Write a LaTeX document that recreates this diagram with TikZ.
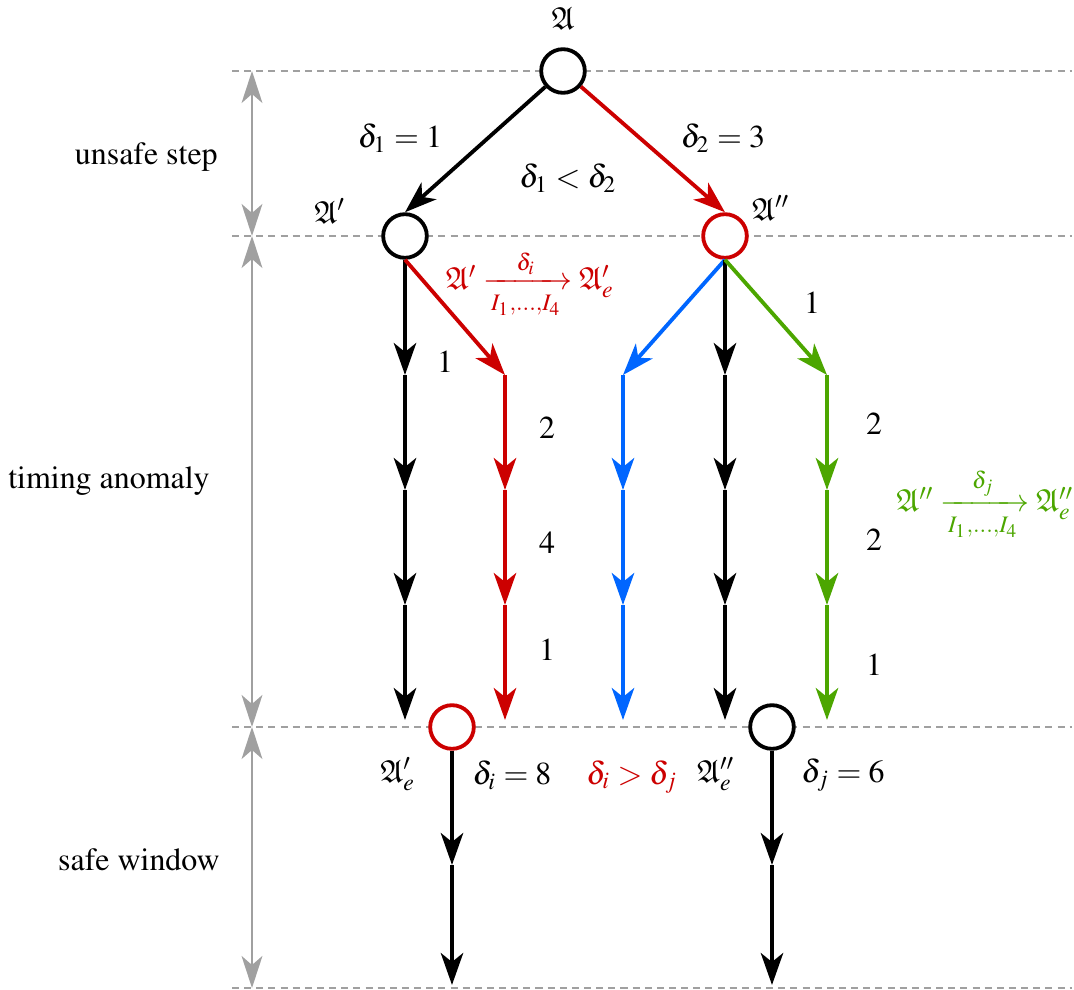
\documentclass[tikz,border=0pt]{standalone}
\usepackage[T1]{fontenc}
\usepackage{mathptmx}
\usepackage{amsmath,amssymb}
\usepackage{tikz}
\usetikzlibrary{arrows.meta}
\definecolor{anored}{HTML}{CC0000}
\definecolor{anoblue}{HTML}{0066FF}
\definecolor{anogreen}{HTML}{4CA600}
\definecolor{bandgray}{HTML}{A0A0A0}

\begin{document}
\begin{tikzpicture}[
  x=0.011cm, y=-0.011cm,
  state/.style={
    circle,
    draw,
    line width=1.2pt,
    minimum size=0.48cm,
    inner sep=0pt,
    fill=white,
  },
  move/.style={
    -{Stealth[length=10pt, width=7pt, inset=2.8pt]},
    line width=1.2pt,
  },
  level/.style={
    draw=bandgray,
    line width=0.6pt,
    dash pattern=on 2.2pt off 1.6pt,
  },
  span/.style={
    {Stealth[length=10pt, width=6.5pt, inset=2.8pt]}-{Stealth[length=10pt, width=6.5pt, inset=2.8pt]},
    draw=bandgray,
    line width=0.9pt,
  },
  phase/.style={anchor=east},
  weight/.style={inner sep=1pt},
]
  \useasboundingbox (0,0) rectangle (1074,990);

  % time levels
  \foreach \k/\y in {0/71, 1/236, 2/727, 3/988} {
    \coordinate (lw\k) at (232,\y);
    \coordinate (le\k) at (1072,\y);
    \coordinate (lm\k) at (252,\y);
  }
  \foreach \k in {0,...,3}
    \draw[level] (lw\k) -- (le\k);

  \draw[span] (lm0) -- (lm1);
  \draw[span] (lm1) -- (lm2);
  \draw[span] (lm2) -- (lm3);

  \node[phase] (unsafe) at (229,157) {unsafe step};
  \node[phase] (anomaly) at (221,481) {timing anomaly};
  \node[phase] (window) at (231,860) {safe window};

  % states
  \node[state] (a0) at (563,71) {};
  \node[state] (a1) at (405,236) {};
  \node[state, draw=anored] (a2) at (725,236) {};
  \node[state, draw=anored] (e1) at (452,727) {};
  \node[state] (e2) at (772,727) {};

  \node (a0lab) at (563,18) {$\mathfrak{A}$};
  \node (a1lab) at (330,211) {$\mathfrak{A}'$};
  \node (a2lab) at (771,208) {$\mathfrak{A}''$};
  \node (e1lab) at (398,774) {$\mathfrak{A}'_e$};
  \node (e2lab) at (716,774) {$\mathfrak{A}''_e$};

  % branch points
  \foreach \name/\x in {bl/405, rd/505, bu/623, bk/725, gr/827}
    \foreach \k/\y in {1/375, 2/490, 3/605, 4/720}
      \coordinate (\name\k) at (\x,\y);
  \coordinate (f1) at (452,865);
  \coordinate (g1) at (452,985);
  \coordinate (f2) at (772,865);
  \coordinate (g2) at (772,985);

  % unsafe step
  \draw[move] (a0) -- (a1.north);
  \draw[move, anored] (a0) -- (a2.north);
  \node (d1) at (400,138) {$\delta_1 = 1$};
  \node (d2) at (723,138) {$\delta_2 = 3$};
  \node (dcmp) at (568,178) {$\delta_1 < \delta_2$};

  % timing anomaly
  \draw[move] (a1) -- (bl1);
  \draw[move, anored] (a1.south) -- (rd1);
  \draw[move, anoblue] (a2.south) -- (bu1);
  \draw[move] (a2) -- (bk1);
  \draw[move, anogreen] (a2.south) -- (gr1);
  \foreach \name/\clr in {bl/black, rd/anored, bu/anoblue, bk/black, gr/anogreen} {
    \draw[move, \clr] (\name1) -- (\name2);
    \draw[move, \clr] (\name2) -- (\name3);
    \draw[move, \clr] (\name3) -- (\name4);
  }

  \node[weight] (w1) at (445,362) {$1$};
  \node[weight] (w2) at (547,428) {$2$};
  \node[weight] (w3) at (547,543) {$4$};
  \node[weight] (w4) at (547,650) {$1$};
  \node[weight] (v1) at (812,303) {$1$};
  \node[weight] (v2) at (874,424) {$2$};
  \node[weight] (v3) at (874,540) {$2$};
  \node[weight] (v4) at (874,665) {$1$};

  \node[text=anored] (runi) at (530,284) {$\mathfrak{A}' \xrightarrow[I_1,\ldots,I_4]{\delta_i} \mathfrak{A}'_e$};
  \node[text=anogreen] (runj) at (985,504) {$\mathfrak{A}'' \xrightarrow[I_1,\ldots,I_4]{\delta_j} \mathfrak{A}''_e$};

  % safe window
  \draw[move] (e1) -- (f1);
  \draw[move] (f1) -- (g1);
  \draw[move] (e2) -- (f2);
  \draw[move] (f2) -- (g2);

  \node (di) at (512,775) {$\delta_i = 8$};
  \node[text=anored] (dgt) at (632,777) {$\delta_i > \delta_j$};
  \node (dj) at (843,775) {$\delta_j = 6$};
\end{tikzpicture}
\end{document}
